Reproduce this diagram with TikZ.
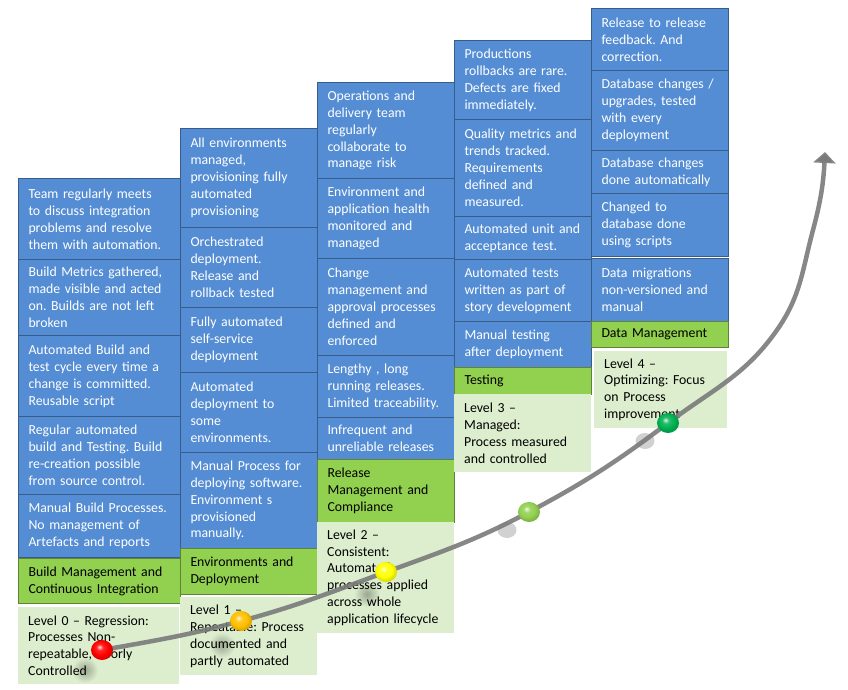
\documentclass[tikz,border=0pt]{standalone}
\usepackage{fontspec}
\setmainfont{Carlito}
\usetikzlibrary{arrows.meta,shapes.geometric}

\definecolor{taskblue}{RGB}{84,141,212}
\definecolor{taskedge}{RGB}{56,93,138}
\definecolor{areagreen}{RGB}{146,208,80}
\definecolor{areaedge}{RGB}{96,130,58}
\definecolor{levelgreen}{RGB}{221,238,206}
\definecolor{trendgray}{RGB}{122,122,122}
\definecolor{amber}{RGB}{255,192,0}
\definecolor{darkgreen}{RGB}{0,176,80}

% brighter variant of the ball shading
\makeatletter
\pgfdeclareradialshading[tikz@ball]{gloss}{\pgfqpoint{-6bp}{8bp}}{%
    color(0bp)=(tikz@ball!15!white); color(8bp)=(tikz@ball!85!white);
    color(18bp)=(tikz@ball); color(25bp)=(tikz@ball!88!black); color(50bp)=(tikz@ball!75!black)}
\makeatother

\tikzset{
    cell/.style={anchor=north west, align=left, inner xsep=10pt, inner ysep=2pt,
        font=\fontsize{13.8}{16.9}\selectfont,
        execute at begin node={\frenchspacing\hyphenpenalty=10000 \exhyphenpenalty=10000}},
    wide/.style={text width=142pt},
    narrow/.style={text width=117pt},
    task/.style={cell, draw=taskedge, line width=1pt, fill=taskblue, text=white},
    area/.style={cell, draw=areaedge, line width=1pt, fill=areagreen, text=black},
    level/.style={cell, fill=levelgreen, text=black},
    blur/.style={circle, minimum size=26pt, inner sep=0pt, blend mode=multiply,
        inner color=black!30, outer color=white},
    shadowdot/.style={ellipse, minimum width=19pt, minimum height=16pt, inner sep=0pt, fill=black!18},
    dot/.style={ellipse, minimum width=22pt, minimum height=20pt, inner sep=0pt},
    trend/.style={line width=4.5pt, draw=trendgray, draw opacity=0.9, -{Triangle[width=22pt,length=11pt]}}
}

\begin{document}
\begin{tikzpicture}[x=1pt,y=-1pt]
    \useasboundingbox (0,0) rectangle (848,690);

    % Level 0 column
    \node[task, wide, minimum height=81pt] (c0t1) at (18,178) {Team regularly meets\\to discuss integration\\problems and resolve\\them with automation.};
    \node[task, wide, minimum height=76pt] (c0t2) at (18,259) {Build Metrics gathered,\\made visible and acted\\on. Builds are not left\\broken};
    \node[task, wide, minimum height=81pt] (c0t3) at (18,335) {Automated Build and\\test cycle every time a\\change is committed.\\Reusable script};
    \node[task, wide, minimum height=78pt] (c0t4) at (18,416) {Regular automated\\build and Testing. Build\\re-creation possible\\from source control.};
    \node[task, wide, minimum height=63pt] (c0t5) at (18,494) {Manual Build Processes.\\No management of\\Artefacts and reports};
    \node[area, wide, minimum height=45pt] (c0area) at (18,558) {Build Management and\\Continuous Integration};
    \node[level, text width=141pt, minimum height=77pt] (c0level) at (18,607) {Level 0 – Regression:\\Processes Non-\\repeatable, Poorly\\Controlled};

    % Level 1 column
    \node[task, narrow, minimum height=99pt] (c1t1) at (180,128) {All environments\\managed,\\provisioning fully\\automated\\provisioning};
    \node[task, narrow, minimum height=80pt] (c1t2) at (180,227) {Orchestrated\\deployment.\\Release and\\rollback tested};
    \node[task, narrow, minimum height=65pt] (c1t3) at (180,307) {Fully automated\\self-service\\deployment};
    \node[task, narrow, minimum height=80pt] (c1t4) at (180,372) {Automated\\deployment to\\some\\environments.};
    \node[task, narrow, minimum height=96pt] (c1t5) at (180,452) {Manual Process for\\deploying software.\\Environment s\\provisioned\\manually.};
    \node[area, narrow, minimum height=46pt] (c1area) at (180,548) {Environments and\\Deployment};
    \node[level, narrow, minimum height=78pt] (c1level) at (180,597) {Level 1 –\\Repeatable: Process\\documented and\\partly automated};

    % Level 2 column
    \node[task, narrow, minimum height=96pt] (c2t1) at (317,82) {Operations and\\delivery team\\regularly\\collaborate to\\manage risk};
    \node[task, narrow, minimum height=80pt] (c2t2) at (317,178) {Environment and\\application health\\monitored and\\managed};
    \node[task, narrow, minimum height=97pt] (c2t3) at (317,258) {Change\\management and\\approval processes\\defined and\\enforced};
    \node[task, narrow, minimum height=62pt] (c2t4) at (317,355) {Lengthy , long\\running releases.\\Limited traceability.};
    \node[task, narrow, minimum height=42pt] (c2t5) at (317,417) {Infrequent and\\unreliable releases};
    \node[area, narrow, minimum height=63pt] (c2area) at (317,459) {Release\\Management and\\Compliance};
    \node[level, narrow, minimum height=111pt] (c2level) at (317,522) {Level 2 –\\Consistent:\\Automated\\processes applied\\across whole\\application lifecycle};

    % Level 3 column
    \node[task, narrow, minimum height=79pt] (c3t1) at (454,40) {Productions\\rollbacks are rare.\\Defects are fixed\\immediately.};
    \node[task, narrow, minimum height=97pt] (c3t2) at (454,119) {Quality metrics and\\trends tracked.\\Requirements\\defined and\\measured.};
    \node[task, narrow, minimum height=43pt] (c3t3) at (454,216) {Automated unit and\\acceptance test.};
    \node[task, narrow, minimum height=62pt] (c3t4) at (454,259) {Automated tests\\written as part of\\story development};
    \node[task, narrow, minimum height=46pt] (c3t5) at (454,321) {Manual testing\\after deployment};
    \node[area, narrow, minimum height=27pt] (c3area) at (454,367) {Testing};
    \node[level, narrow, minimum height=78pt] (c3level) at (454,394) {Level 3 –\\Managed:\\Process measured\\and controlled};

    % Level 4 column
    \node[task, narrow, minimum height=62pt] (c4t1) at (591,8) {Release to release\\feedback. And\\correction.};
    \node[task, narrow, minimum height=80pt] (c4t2) at (591,70) {Database changes /\\upgrades, tested\\with every\\deployment};
    \node[task, narrow, minimum height=43pt] (c4t3) at (591,150) {Database changes\\done automatically};
    \node[task, narrow, minimum height=63pt] (c4t4) at (591,193) {Changed to\\database done\\using scripts};
    \node[task, narrow, minimum height=63pt] (c4t5) at (591,258) {Data migrations\\non-versioned and\\manual};
    \node[area, narrow, minimum height=26pt] (c4area) at (591,321) {Data Management};
    \node[level, text width=113pt, minimum height=77pt] (c4level) at (594,351) {Level 4 –\\Optimizing: Focus\\on Process\\improvement};

    % points on the trend line
    \coordinate (lvl0) at (102,650);
    \coordinate (lvl1) at (241,621);
    \coordinate (lvl2) at (386,572);
    \coordinate (lvl3) at (529,512);
    \coordinate (lvl4) at (668,423);
    \coordinate (bend1) at (777,330);
    \coordinate (bend2) at (813,230);
    \coordinate (tip) at (825,152);

    % shadows under the dots
    \node[blur] (lvl0blur) at (85,670) {};
    \node[blur] (lvl1blur) at (222,645) {};
    \node[blur] (lvl2blur) at (367,594) {};
    \node[shadowdot] (lvl3shadow) at (507,530) {};
    \node[shadowdot] (lvl4shadow) at (645,441) {};

    % trend line
    \draw[trend] (lvl0) to[out=10,in=195] (lvl1) to[out=15,in=200] (lvl2)
        to[out=20,in=208] (lvl3) to[out=28,in=217] (lvl4) to[out=37,in=235] (bend1)
        to[out=55,in=255] (bend2) to[out=75,in=267] (tip);

    % dots
    \node[dot, ball color=red, shading=gloss] (lvl0dot) at (lvl0) {};
    \node[dot, ball color=amber, shading=gloss] (lvl1dot) at (lvl1) {};
    \node[dot, ball color=yellow, shading=gloss] (lvl2dot) at (lvl2) {};
    \node[dot, ball color=areagreen, shading=gloss] (lvl3dot) at (lvl3) {};
    \node[dot, ball color=darkgreen, shading=gloss] (lvl4dot) at (lvl4) {};
\end{tikzpicture}
\end{document}
